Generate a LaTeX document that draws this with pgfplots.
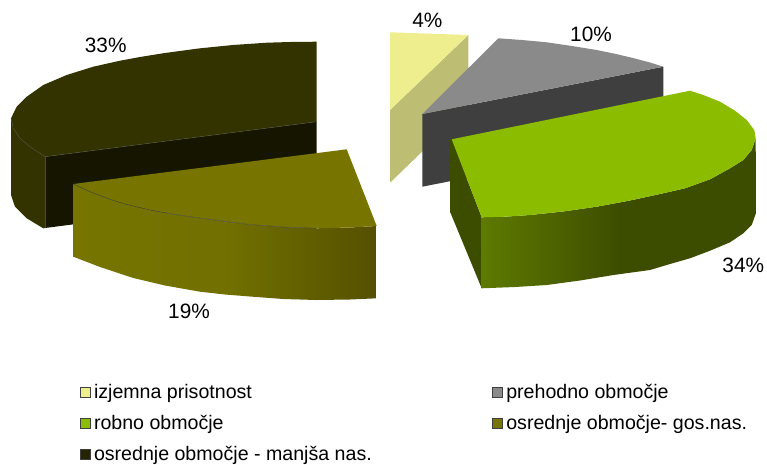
\documentclass[border=0pt]{standalone}
\usepackage{fontspec}
\setmainfont{Liberation Sans}
\usepackage{pgfplots}
\pgfplotsset{compat=1.18}

% faces: top / cut / outer wall
\definecolor{khakitop}{HTML}{EEEE8E}
\definecolor{khakicut}{HTML}{BDBD73}
\definecolor{greytop}{HTML}{8A8A8A}
\definecolor{greycut}{HTML}{3F3F3F}
\definecolor{greentop}{HTML}{8CBC00}
\definecolor{greencut}{HTML}{3D4D00}
\definecolor{greenlight}{HTML}{5E7A00}
\definecolor{olivetop}{HTML}{777500}
\definecolor{olivemid}{HTML}{717000}
\definecolor{olivedark}{HTML}{555000}
\definecolor{darktop}{HTML}{333300}
\definecolor{darkcut}{HTML}{161600}
\definecolor{edgeline}{HTML}{4A4A38}

% wall gradients, the path's box is mapped on 25bp..75bp
\pgfdeclarehorizontalshading{greenwall}{100bp}{color(0bp)=(greenlight); color(25bp)=(greenlight); color(50bp)=(greencut); color(100bp)=(greencut)}
\pgfdeclarehorizontalshading{olivewall}{100bp}{color(0bp)=(olivetop); color(25bp)=(olivetop); color(50bp)=(olivemid); color(75bp)=(olivedark); color(100bp)=(olivedark)}

\pgfplotsset{
  face/.style={draw=none, forget plot},
  edge/.style={draw=edgeline, line width=0.5pt, forget plot},
  sq/.style={legend image code/.code={
    \draw[##1,draw=black!75,line width=1pt] (0.5pt,0.5pt) rectangle (10.5pt,10.5pt);}},
}
\newcommand{\lbl}{\fontsize{19.6}{24}\selectfont}
\newcommand{\pct}{\fontsize{20.8}{24}\selectfont}

\begin{document}
\begin{tikzpicture}
\useasboundingbox (0,0) rectangle (767pt,464pt);
\begin{axis}[
  at={(0,0)}, anchor=south west,
  scale only axis, width=767pt, height=464pt,
  xmin=0, xmax=767, ymin=0, ymax=464, y dir=reverse,
  hide axis,
  legend columns=2,
  legend cell align=left,
  legend style={
    at={(axis cs:80,384)}, anchor=north west,
    draw=none, fill=none, inner sep=0pt, outer sep=0pt,
    font=\lbl,
    nodes={inner sep=0pt, anchor=base west, text height=14pt, text depth=4pt},
    row sep=13pt,
    /tikz/every even column/.append style={column sep=120.5pt},
    /tikz/every odd column/.append style={column sep=3pt},
  },
]
\addlegendimage{sq, fill=khakitop}
\addlegendentry{izjemna prisotnost}
\addlegendimage{sq, fill=greytop}
\addlegendentry{prehodno območje}
\addlegendimage{sq, fill=greentop}
\addlegendentry{robno območje}
\addlegendimage{sq, fill=olivetop}
\addlegendentry{osrednje območje- gos.nas.}
\addlegendimage{sq, fill=darktop!70!black}
\addlegendentry{osrednje območje - manjša nas.}

% 4%
\addplot[face, fill=khakicut] coordinates {(390,110) (468.3,35) (468.3,107) (390,182.7)} -- cycle;
\addplot[face, fill=khakitop] coordinates {(390,32.3) (468.3,35) (390,110)} -- cycle;

% 10%
\addplot[face, fill=greycut] coordinates {(422.3,114) (663.3,66.7) (663.3,139) (422.3,186.7)} -- cycle;
\addplot[face, fill=greytop] coordinates {(498.3,38.3) (522,40) (546.7,42.3) (572,46) (596.7,50) (616,54) (633,58) (650,62.5) (663.3,66.7) (422.3,114)} -- cycle;

% 34%
\addplot[face, fill=greencut] coordinates {(451.7,139.3) (481.7,217.3) (481.7,288.3) (450,211.7) (450,139)} -- cycle;
\addplot[face, shade, shading=greenwall] coordinates {(481.7,217.3) (505,216.7) (530,215) (563,211.5) (596.7,206.7) (630,200.5) (660,194) (685,188.3) (710,179.3) (730,168.3) (743.3,160) (751.7,150) (755.7,138.3) (755.9,213.3) (751.7,225) (743.3,233.3) (730,242.3) (710,250.7) (690,258.3) (670,264) (650,270) (613.3,275) (580,280.5) (546.7,285) (515,287) (481.7,288.3)} -- cycle;
\addplot[face, fill=greentop] coordinates {(451.7,139.3) (690,90.7) (703.3,95) (720,101.7) (735,110.7) (746.7,120) (754.3,130) (755.7,138.3) (751.7,150) (743.3,160) (730,168.3) (710,179.3) (685,188.3) (660,194) (630,200.5) (596.7,206.7) (563,211.5) (530,215) (505,216.7) (481.7,217.3)} -- cycle;

% 33%
\addplot[face, fill=darkcut] coordinates {(45,156.7) (316.7,121.7) (316.7,193) (45,228)} -- cycle;
\addplot[face, fill=darktop] coordinates {(11,118.3) (13.3,128.3) (20,138.3) (30,146.7) (45,156.7) (45,228) (43.3,228.3) (26.7,218.3) (15,206.7) (11,195)} -- cycle;
\addplot[face, fill=darktop] coordinates {(316.7,41.7) (290,42) (266.7,42.7) (233,45) (200,48.3) (165,53) (140,57) (120,60.7) (93.3,66.7) (66.7,75) (43.3,85) (26.7,96.7) (16.7,106.7) (11,118.3) (13.3,128.3) (20,138.3) (30,146.7) (45,156.7) (316.7,121.7)} -- cycle;
\addplot[edge] coordinates {(11,118.3) (13.3,128.3) (20,138.3) (30,146.7) (45,156.7) (316.7,121.7)};
\addplot[edge] coordinates {(45,156.7) (45,228)};

% 19%
\addplot[face, shade, shading=olivewall] coordinates {(73.3,184) (90,191.7) (110,199.3) (125,204) (150,210) (175,214.5) (200,218) (225,221.5) (250,224.5) (283,227) (316.7,228.3) (350,227.5) (376.7,226) (376.7,298.3) (350,299.5) (316.7,300) (283,299) (250,296.5) (225,294.5) (200,291.7) (165,285.5) (133.3,278) (100,267) (73.3,256.7)} -- cycle;
\addplot[face, fill=olivetop] coordinates {(73.3,184) (346.7,149.3) (376.7,226) (350,227.5) (316.7,228.3) (283,227) (250,224.5) (225,221.5) (200,218) (175,214.5) (150,210) (125,204) (110,199.3) (90,191.7)} -- cycle;
\addplot[edge] coordinates {(73.3,184) (90,191.7) (110,199.3) (125,204) (150,210) (175,214.5) (200,218) (225,221.5) (250,224.5) (283,227) (316.7,228.3)};

\node[font=\pct] at (axis cs:105.7,45) {33\%};
\node[font=\pct] at (axis cs:189,311.7) {19\%};
\node[font=\pct] at (axis cs:427.3,20) {4\%};
\node[font=\pct] at (axis cs:591,34) {10\%};
\node[font=\pct] at (axis cs:743.3,265) {34\%};
\end{axis}
\end{tikzpicture}
\end{document}
